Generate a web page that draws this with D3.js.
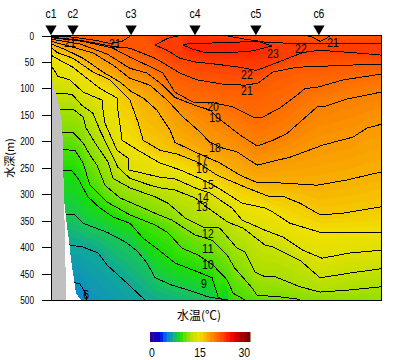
<!DOCTYPE html>
<html>
<head>
<meta charset="utf-8">
<script src="https://cdnjs.cloudflare.com/ajax/libs/d3/7.8.5/d3.min.js"></script>
<style>
  html, body { margin: 0; padding: 0; background: #fff; }
  svg { display: block; }
  text { font-family: "Liberation Sans", sans-serif; font-size: 13px; fill: #000; }
  .cjk { font-family: "Noto Sans CJK JP", sans-serif; font-size: 12px; }
  .axis path, .axis line { stroke: #000; shape-rendering: crispEdges; }
</style>
</head>
<body>
<div id="chart"></div>
<script>
// stations along the section, km from c1
const stationNames = ["c1", "c2", "c3", "c4", "c5", "c6"];
const stationKm = [0, 7.3, 26.7, 48, 68.3, 89.3];
const depthTicks = [0, 50, 100, 150, 200, 250, 300, 350, 400, 450, 500];

// isotherms, [km, depth m]
const iso21Top = [[0,1],[7.3,3],[14.7,9],[19.7,15],[23.7,11],[26.7,0]];
const iso21Low = [[0,3],[9.7,9],[16.3,16],[19.7,20],[26.3,24],[34.7,43],[43,71],[48.7,84],[57.3,92],[64.7,94],[69,90],[74,69],[82,60],[99.7,56],[110,54]];
const iso21Vee = [[85,0],[87,3],[89.7,11],[92,5],[93,0]];
const iso22Low = [[43,0],[39,5],[34.7,18],[38.7,28],[43,43],[48,50],[54.7,54],[63,60],[68.3,66],[71.3,60],[77.3,47],[84,32],[89.7,28],[99.7,32],[110,37]];
const iso22Top = [[58,0],[64.7,7],[72,13],[80.7,15],[96.3,15],[110,16]];
const iso23 = [[44,18],[46.3,15],[49.7,15],[59.7,13],[69,11],[73.7,20],[66.3,30],[59.7,32],[51.3,32],[47.3,26],[44,18]];
const iso20 = [[0,4],[10.7,11],[20.7,24],[26.3,41],[32,56],[37.3,71],[41.3,107],[47.3,126],[53,126],[60.7,135],[68,156],[70.7,154],[76.3,137],[82,113],[84.7,100],[88.7,98],[97.3,84],[110,73]];
const iso19 = [[0,7],[9.7,16],[18.7,35],[26.3,62],[32,71],[37.3,94],[41.3,117],[48,132],[53,141],[55.7,156],[63,188],[68.7,209],[74,198],[78.7,185],[88.7,135],[90.7,135],[98.7,120],[110,107]];
const iso18 = [[0,11],[7.3,22],[14,33],[20.7,56],[26.3,81],[33,94],[38.7,122],[44,154],[49,179],[53,202],[57.3,213],[62,220],[68.7,245],[79.7,230],[90.7,207],[100.7,192],[105.3,175],[110,168]];
const iso17 = [[0,16],[5.3,28],[10.7,43],[17.3,69],[23,88],[27,107],[30.7,118],[35.3,141],[39.7,179],[41.3,202],[48.7,222],[56.3,241],[63,264],[68.3,277],[77.3,279],[88.7,283],[98.7,273],[110,258]];
const iso16 = [[0,22],[2,32],[7.3,43],[14,69],[19.7,84],[26.3,122],[29,164],[30.7,198],[36.3,217],[42,224],[48.7,239],[55.3,264],[65.3,288],[73,305],[77.3,304],[83,317],[89.7,339],[97.3,336],[110,324]];
const iso15 = [[0,37],[3,47],[7.3,60],[12,81],[16.3,100],[22,118],[22.3,141],[23.7,198],[29,217],[36.3,241],[43,254],[50.7,273],[55.7,288],[63.7,317],[71.3,326],[74,334],[79.7,355],[89.7,372],[110,372]];
const iso14 = [[0,56],[2.3,77],[6.3,84],[10.7,107],[17,122],[17.2,135],[18,166],[22,217],[25.7,232],[25.7,254],[29,258],[36.3,268],[41.3,271],[48,288],[53,298],[60.3,326],[63.7,349],[71.3,368],[77.3,381],[84,406],[90.3,421],[99.7,411],[110,406]];
const iso13 = [[0,109],[7,111],[10.3,132],[14,147],[16.3,179],[22.3,249],[26.3,270],[33,283],[36.3,288],[41.3,292],[48,307],[52.3,326],[59,353],[64,364],[71.3,396],[74,400],[83,425],[89.7,458],[99.7,449],[110,441]];
const iso12 = [[0,139],[7.3,139],[10.7,154],[11.7,175],[14.7,203],[19,239],[20.7,270],[26.3,288],[34.7,305],[39,317],[44.7,345],[50.7,362],[56.3,364],[62,402],[64.7,409],[68,447],[71.3,456],[74.7,456],[83,475],[89.7,485],[99.7,481],[110,475]];
const iso11 = [[0,183],[7.3,183],[10.7,203],[13,226],[15.3,245],[18,283],[23,307],[30.7,326],[34.7,336],[40.3,349],[48,377],[53.7,387],[58.7,415],[61.3,440],[67,477],[68.7,491],[76.3,494],[82,498],[83,500]];
const iso10 = [[0,215],[8,217],[10.7,241],[13,283],[18.7,315],[26.3,339],[34.7,358],[39,373],[43.7,402],[49,415],[54,434],[58.7,462],[60.7,487],[64.7,500]];
const iso9 = [[0,254],[7,256],[9,270],[12.3,305],[16.3,326],[20.7,343],[26.3,355],[30.7,383],[34.7,400],[41.3,430],[49,447],[53.7,458],[55.7,494],[57,500]];
const iso8 = [[0,336],[8,339],[10.7,355],[18.7,372],[25.3,392],[29,409],[32,430],[34.7,458],[40.3,472],[45.7,481],[52.3,494],[59,500]];
const iso7 = [[0,390],[10.7,400],[15.7,411],[18.7,434],[25.3,468],[31.3,500]];
const iso6 = [[3,466],[7.3,466],[9.7,470],[11.3,485],[12,500]];

const isotherms = [
  [21, iso21Top], [21, iso21Low], [21, iso21Vee], [22, iso22Low], [22, iso22Top], [23, iso23],
  [20, iso20], [19, iso19], [18, iso18], [17, iso17], [16, iso16], [15, iso15], [14, iso14],
  [13, iso13], [12, iso12], [11, iso11], [10, iso10], [9, iso9], [8, iso8], [7, iso7], [6, iso6]
];

// temperature along the surface and along the 500 m line
const surfaceKm = [0, 26.7, 43, 48, 58, 85, 89, 93, 110];
const surfaceTemp = [20, 21, 22, 22.6, 22, 21, 20.8, 21, 21.3];
const bottomKm = [0, 8, 12, 31.3, 57, 58, 64.7, 83, 110];
const bottomTemp = [5, 5.2, 6, 7, 8, 9, 10, 11, 11.6];

// sea bed (grey) and the edge of the sampled area (white wedge)
const shelfKm = [0, 0.7, 2, 2.7, 3.7, 4, 4.3, 4.7, 5];
const shelfDepth = [75, 94, 117, 135, 166, 217, 309, 387, 500];
const sampleKm = [4.3, 5.2, 6.1, 6.7, 7.7, 8.3, 10];
const sampleDepth = [307, 355, 392, 425, 462, 487, 500];

const labelText = ["21","21","23","22","21","22","21","20","19","18","17","16","15","14","13","12","11","10","9","6"];
const labelKm = [6.3,21.3,74,83.3,94,65.3,65.3,54,54.7,54.7,50.3,50.3,52.3,50.7,50.3,52.3,52.3,52.3,51,11.7];
const labelDepth = [13,15,33,24,13,73,103,134,154,211,234,251,281,305,322,373,402,432,468,490];

// colour bar stops
const colourTemp = [0, 3, 5, 6, 7, 8, 9, 10, 11, 12, 13, 14, 15, 16, 17, 18, 19, 20, 21, 22, 23, 25, 27, 30];
const colourHex = ["#300090","#0000e0","#0080f0","#1090c0","#10a898","#18c850","#18e000","#48e000","#80e000","#a8e000","#c8e000","#e0e000","#f0e000","#f4c800","#f8b000","#fa9800","#fc8000","#ff6c00","#ff5800","#ff4000","#ff2800","#e80000","#b00000","#700000"];
const barTicks = [0, 15, 30];

const width = 400, height = 360;
const margin = {top: 35.5, right: 19, bottom: 60, left: 51};
const plotW = width - margin.left - margin.right;
const plotH = height - margin.top - margin.bottom;

const xScale = d3.scaleLinear().domain([0, 110]).range([0, plotW]);
const yScale = d3.scaleLinear().domain([0, 500]).range([0, plotH]);
const colour = d3.scaleLinear().domain(colourTemp).range(colourHex);

const svg = d3.select("#chart").append("svg").attr("width", width).attr("height", height);
const plot = svg.append("g").attr("transform", `translate(${margin.left},${margin.top})`);

// the reference digits are tall and narrow, squeeze the text to match
function squeeze(sel, perChar) {
  sel.attr("textLength", d => String(d).length * perChar).attr("lengthAdjust", "spacingAndGlyphs");
}

// depth -> temperature knots for one column, from the isotherms that cross it
function columnScale(km) {
  const surface = d3.scaleLinear().domain(surfaceKm).range(surfaceTemp);
  const bottom = d3.scaleLinear().domain(bottomKm).range(bottomTemp);
  const knots = [[0, surface(km)]];
  isotherms.forEach(([t, line]) => {
    for (let i = 1; i < line.length; i++) {
      const [k0, d0] = line[i - 1], [k1, d1] = line[i];
      if (km >= Math.min(k0, k1) && km < Math.max(k0, k1)) {
        knots.push([d0 + (d1 - d0) * (km - k0) / (k1 - k0), t]);
      }
    }
  });
  knots.push([500, bottom(km)]);
  knots.sort((a, b) => a[0] - b[0]);
  return d3.scaleLinear().domain(knots.map(d => d[0])).range(knots.map(d => d[1])).clamp(true);
}

// fill: sample the field on the pixel grid and let d3.contours band it
const nx = Math.round(plotW), ny = Math.round(plotH);
const field = new Array(nx * ny);
for (let i = 0; i < nx; i++) {
  const col = columnScale(xScale.invert(i + 0.5));
  for (let j = 0; j < ny; j++) field[j * nx + i] = col(yScale.invert(j + 0.5));
}
const levels = d3.range(3, 25, 0.25);
const bands = d3.contours().size([nx, ny]).thresholds(levels)(field);
plot.append("g").selectAll("path").data(bands).enter().append("path")
  .attr("d", d3.geoPath())
  .attr("fill", d => colour(d.value + 0.125));

// isotherm lines
const line = d3.line().x(d => xScale(d[0])).y(d => yScale(d[1]));
plot.append("g").selectAll("path").data(isotherms).enter().append("path")
  .attr("d", d => line(d[1]))
  .attr("fill", "none").attr("stroke", "#000").attr("stroke-width", 1)
  .attr("shape-rendering", "crispEdges");

// unsampled wedge and land
const wedge = sampleKm.map((k, i) => [k, sampleDepth[i]]).concat([[0, 500], [0, sampleDepth[0]]]);
plot.append("path").attr("d", line(wedge) + "Z").attr("fill", "#fff").attr("shape-rendering", "crispEdges");
const land = shelfKm.map((k, i) => [k, shelfDepth[i]]).concat([[0, 500]]);
plot.append("path").attr("d", line(land) + "Z").attr("fill", "#c0c0c0").attr("shape-rendering", "crispEdges");

// isotherm labels
plot.append("g").selectAll("text").data(labelText).enter().append("text")
  .text(d => d)
  .attr("x", (d, i) => xScale(labelKm[i]))
  .attr("y", (d, i) => yScale(labelDepth[i]))
  .attr("dy", "0.35em")
  .attr("text-anchor", "middle")
  .style("font-size", "13.5px")
  .call(squeeze, 5.8);

// frame and axis
plot.append("rect").attr("width", plotW).attr("height", plotH)
  .attr("fill", "none").attr("stroke", "#000").attr("shape-rendering", "crispEdges");
const axis = plot.append("g").attr("class", "axis")
  .call(d3.axisLeft(yScale).tickValues(depthTicks).tickSize(9).tickPadding(8));
axis.selectAll("text").style("font-size", "11px").call(squeeze, 4.6);

// stations
const stations = plot.append("g").selectAll("g").data(stationNames).enter().append("g")
  .attr("transform", (d, i) => `translate(${xScale(stationKm[i])},0)`);
stations.append("path").attr("d", d3.symbol().type(d3.symbolTriangle).size(55)).attr("transform", "translate(0,-6.8) rotate(180)").attr("fill", "#000");
stations.append("text").text(d => d).attr("y", -17.5).attr("text-anchor", "middle").call(squeeze, 5.5);

svg.append("text").attr("class", "cjk")
  .attr("transform", "translate(14,158) rotate(-90)")
  .attr("text-anchor", "middle").style("font-size", "11px").text("水深(m)");
svg.append("text").attr("class", "cjk").attr("x", 199).attr("y", 320).attr("text-anchor", "middle").text("水温(℃)");

// colour bar
const barScale = d3.scaleLinear().domain([0, 30]).range([150, 250]);
svg.append("g").selectAll("rect").data(d3.range(0, 30)).enter().append("rect")
  .attr("x", d => barScale(d)).attr("y", 332)
  .attr("width", d => barScale(d + 1) - barScale(d) + 0.5).attr("height", 10)
  .attr("fill", d => colour(d + 0.5));
svg.append("g").selectAll("text").data(barTicks).enter().append("text")
  .text(d => d)
  .attr("x", d => d === 0 ? barScale(d) - 1 : barScale(d))
  .attr("y", 357)
  .attr("text-anchor", d => d === 0 ? "start" : d === 30 ? "end" : "middle")
  .style("font-size", "13.5px")
  .call(squeeze, 5.8);
</script>
</body>
</html>
